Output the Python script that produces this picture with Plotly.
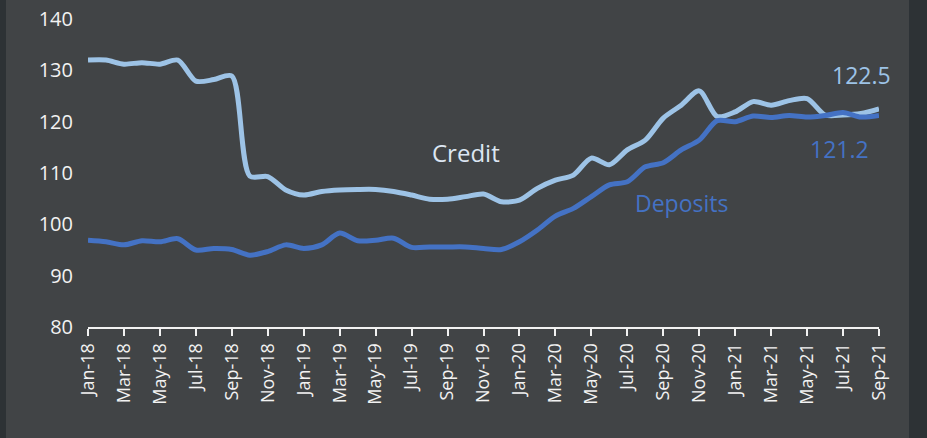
import plotly.graph_objects as go

months = ["Jan", "Feb", "Mar", "Apr", "May", "Jun", "Jul", "Aug", "Sep", "Oct", "Nov", "Dec"]
categories = [f"{m}-{y}" for y in ["18", "19", "20", "21"] for m in months][:45]

credit = [132.0, 132.0, 131.2, 131.5, 131.2, 132.0, 127.9, 128.2, 128.9, 109.4, 109.3, 106.7,
          105.7, 106.4, 106.7, 106.8, 106.8, 106.4, 105.7, 104.9, 104.9, 105.4, 105.9, 104.4,
          104.7, 107.0, 108.6, 109.6, 112.9, 111.6, 114.5, 116.4, 120.7, 123.2, 126.0, 121.0,
          121.9, 123.9, 123.2, 124.1, 124.5, 121.3, 121.3, 121.6, 122.5]
deposits = [96.9, 96.6, 96.0, 96.8, 96.6, 97.2, 95.0, 95.3, 95.1, 94.0, 94.7, 96.0,
            95.3, 96.0, 98.3, 96.8, 96.9, 97.3, 95.5, 95.6, 95.6, 95.6, 95.3, 95.1,
            96.6, 98.9, 101.6, 103.1, 105.4, 107.7, 108.3, 111.2, 112.0, 114.5, 116.4, 120.2,
            120.0, 121.1, 120.8, 121.2, 120.9, 121.2, 121.8, 120.9, 121.2]
tick_labels = categories[::2]
y_ticks = [80, 90, 100, 110, 120, 130, 140]

credit_color = "#9DC3E6"
deposit_color = "#4472C4"
font_family = "Open Sans, Noto Sans, sans-serif"

fig = go.Figure()
fig.add_trace(go.Scatter(x=categories, y=credit, mode="lines", name="Credit",
                         line=dict(color=credit_color, width=5, shape="spline", smoothing=0.8)))
fig.add_trace(go.Scatter(x=categories, y=deposits, mode="lines", name="Deposits",
                         line=dict(color=deposit_color, width=5, shape="spline", smoothing=0.8)))

fig.add_annotation(x=categories[21], y=114, text="Credit", showarrow=False,
                   font=dict(size=24, color="#DCE6F2", family=font_family), xanchor="center", yanchor="middle")
fig.add_annotation(x=categories[33], y=104.2, text="Deposits", showarrow=False,
                   font=dict(size=23, color=deposit_color, family=font_family), xanchor="center", yanchor="middle")
fig.add_annotation(x=43, y=129.1, text="122.5", showarrow=False,
                   font=dict(size=23, color=credit_color, family=font_family), xanchor="center", yanchor="middle")
fig.add_annotation(x=41.8, y=114.6, text="121.2", showarrow=False,
                   font=dict(size=23, color=deposit_color, family=font_family), xanchor="center", yanchor="middle")

# dark side strips of the slide background
fig.add_shape(type="rect", xref="paper", yref="paper", x0=-0.2, x1=-0.1037, y0=-0.5, y1=1.1,
              fillcolor="#2D3235", line=dict(width=0), layer="below")
fig.add_shape(type="rect", xref="paper", yref="paper", x0=1.038, x1=1.1, y0=-0.5, y1=1.1,
              fillcolor="#2D3235", line=dict(width=0), layer="below")

fig.update_layout(
    width=927, height=438, autosize=False,
    margin=dict(l=88, r=48, t=19, b=111, autoexpand=False),
    paper_bgcolor="#414446", plot_bgcolor="rgba(0,0,0,0)",
    showlegend=False,
    font=dict(family=font_family, color="#F2F2F2"),
)
fig.update_xaxes(type="category", range=[0, 44], tickmode="array", tickvals=tick_labels, ticktext=tick_labels,
                 tickangle=-90, tickfont=dict(size=18, color="#F2F2F2"), showgrid=False,
                 showline=True, linecolor="#F2F2F2", linewidth=2, ticks="outside", ticklen=7,
                 tickcolor="#F2F2F2", tickwidth=2, zeroline=False, automargin=False)
fig.update_yaxes(range=[80, 140], tickvals=y_ticks, tickfont=dict(size=20, color="#F2F2F2"),
                 showgrid=False, zeroline=False, showline=False, ticks="", ticklabelstandoff=14,
                 ticklabeloverflow="allow", automargin=False)

fig.write_html("out.html", config={"displayModeBar": False},
               post_script="document.body.style.margin='0';document.body.style.overflow='hidden';")
